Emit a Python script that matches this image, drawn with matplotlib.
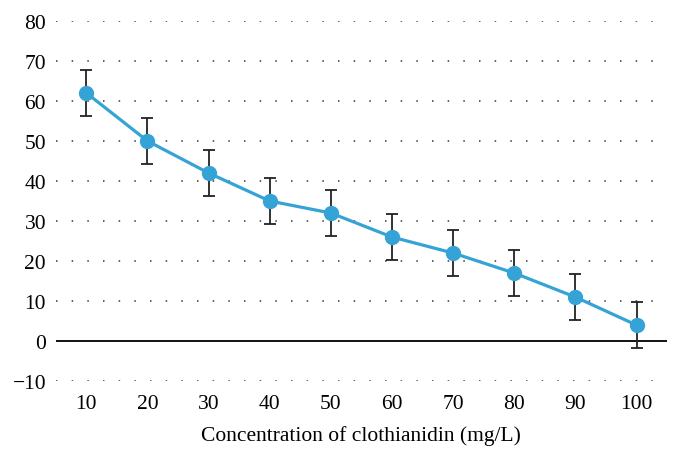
import matplotlib.pyplot as plt

concentration = ['10', '20', '30', '40', '50', '60', '70', '80', '90', '100']
inhibition = [62, 50, 42, 35, 32, 26, 22, 17, 11, 4]
errors = [5.8, 5.7, 5.7, 5.7, 5.7, 5.7, 5.7, 5.7, 5.8, 5.7]
yticks = [-10, 0, 10, 20, 30, 40, 50, 60, 70, 80]

plt.rcParams['font.family'] = ['Liberation Serif', 'DejaVu Serif']

fig = plt.figure(figsize=(6.8, 4.56), dpi=100)
ax = fig.add_axes([0.082, 0.162, 0.899, 0.790])

x = list(range(len(concentration)))

# dotted grid lines, solid zero line
for y in yticks:
    if y == 0:
        ax.axhline(y, color='black', linewidth=1.3, zorder=1)
    else:
        ax.axhline(y, color='#444444', linewidth=1.2, linestyle=(0, (0.9, 8.5)), zorder=1)

ax.errorbar(x, inhibition, yerr=errors, fmt='none', ecolor='#222222',
            elinewidth=1.3, capsize=4.5, capthick=1.3, zorder=2)
ax.plot(x, inhibition, color='#35A3D5', linewidth=2.3, marker='o',
        markersize=10, zorder=3)

ax.set_xlim(-0.5, len(concentration) - 0.5)
ax.set_ylim(-10, 80)
ax.set_xticks(x)
ax.set_xticklabels(concentration)
ax.set_yticks(yticks)
ax.set_yticklabels([str(v).replace('-', '\u2212') for v in yticks])
ax.tick_params(length=0, labelsize=15.5, pad=7)
ax.tick_params(axis='x', pad=9)
for s in ax.spines.values():
    s.set_visible(False)

ax.set_xlabel('Concentration of clothianidin (mg/L)', fontsize=15.5, labelpad=9)

fig.savefig('out.png', dpi=100)
